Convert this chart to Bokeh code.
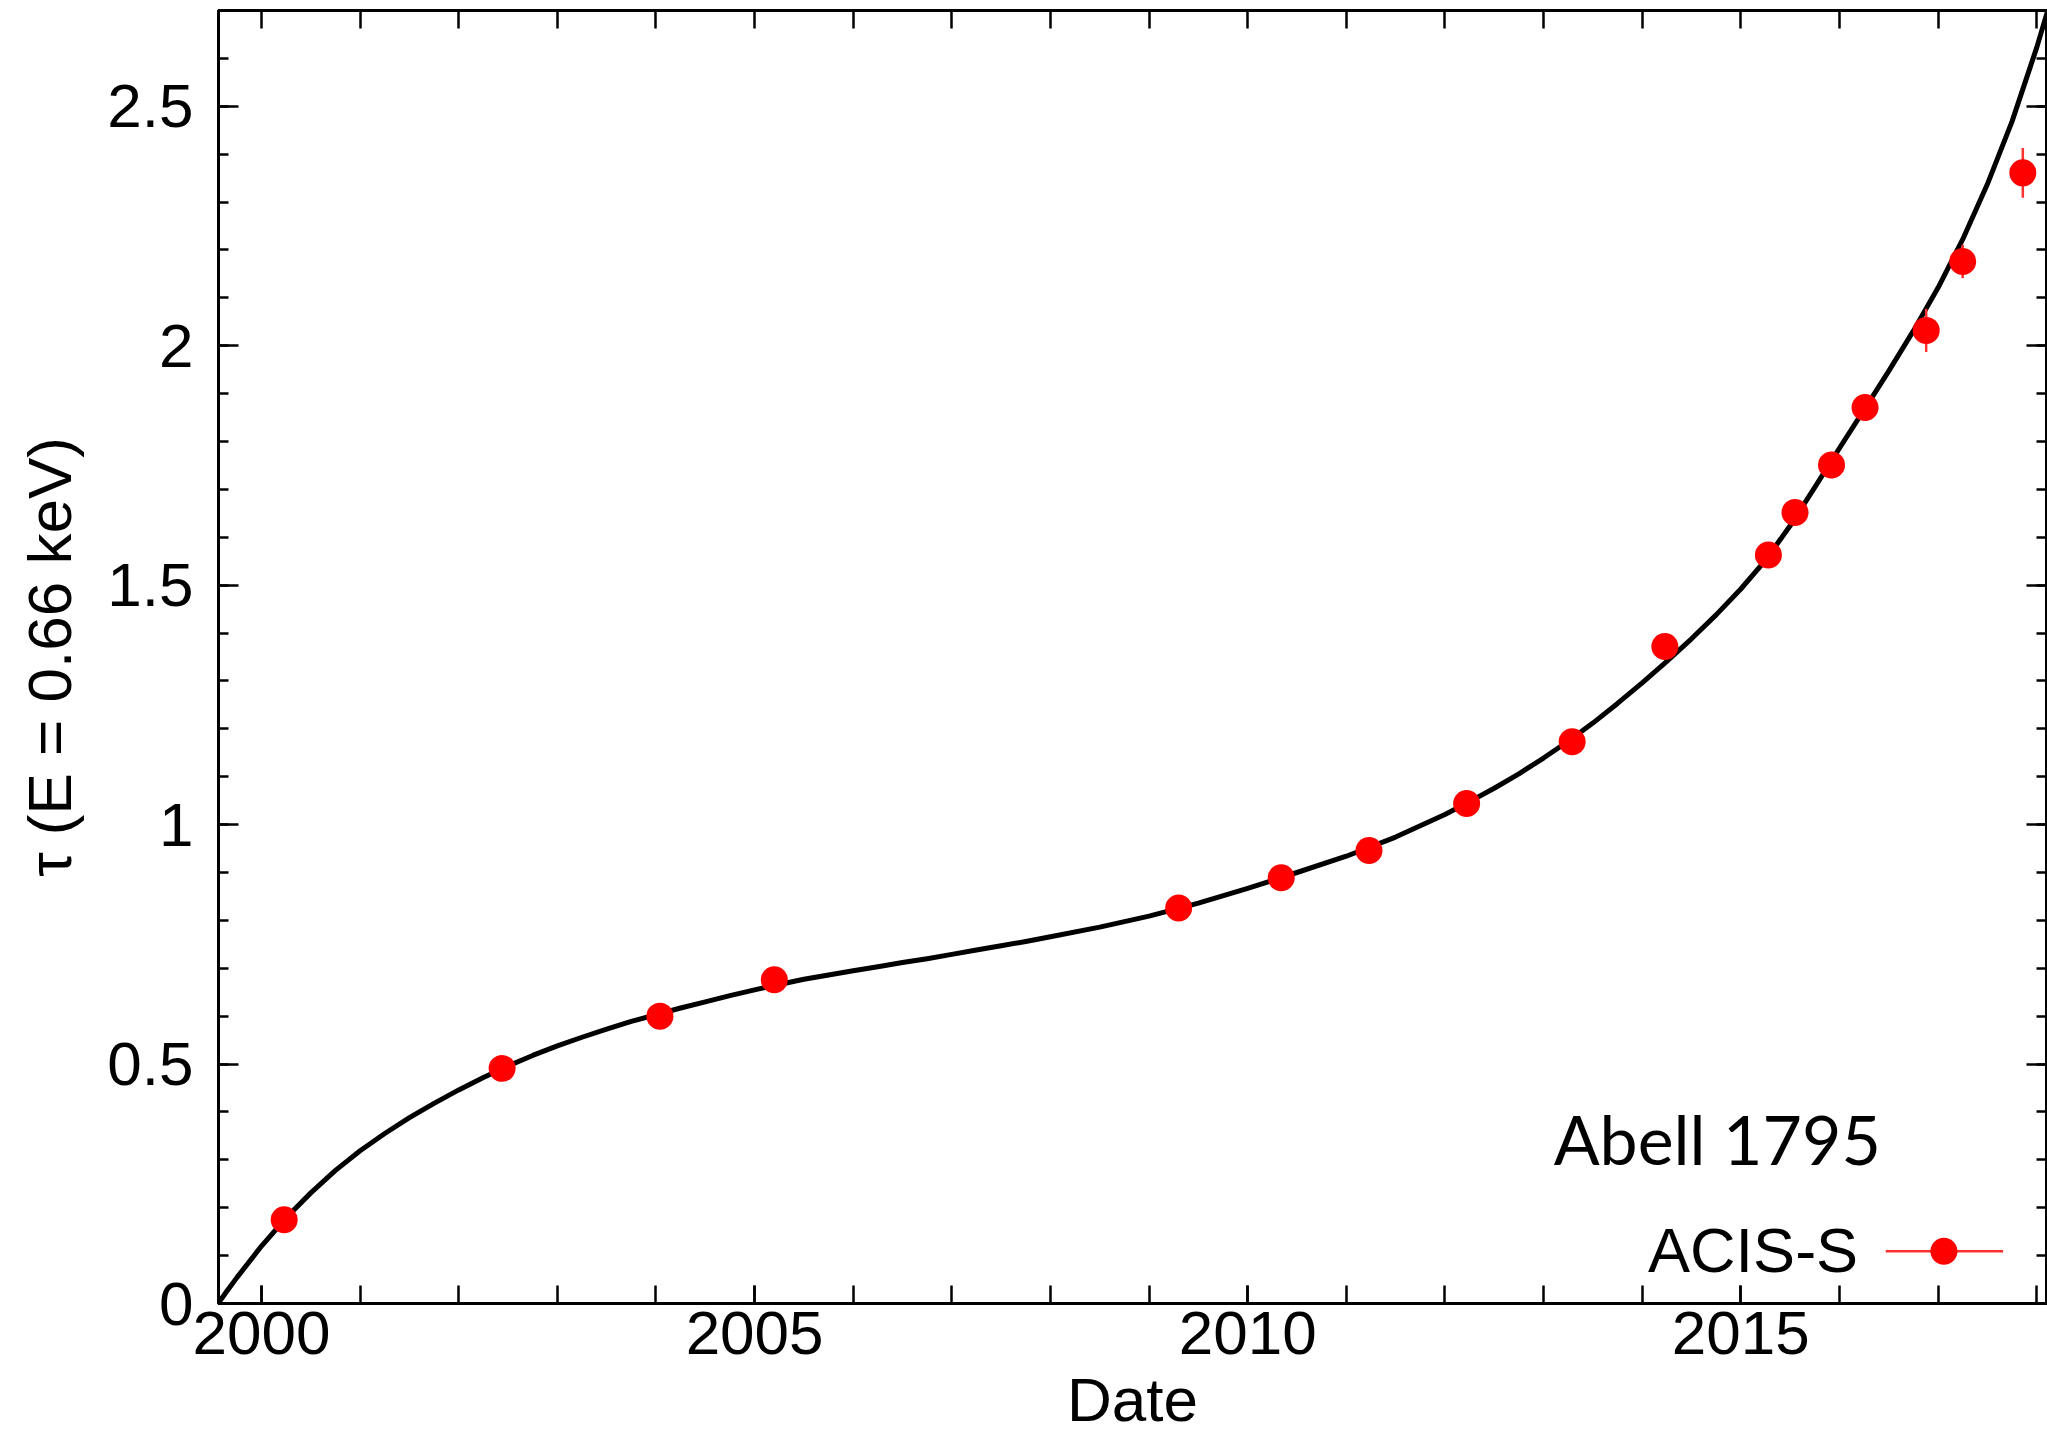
from bokeh.plotting import figure
from bokeh.models import FixedTicker, LinearAxis, Range1d, Label
from bokeh.embed import file_html
from bokeh.resources import INLINE

# ---- data ----
obs_date = [2000.23, 2002.44, 2004.04, 2005.20, 2009.30, 2010.34, 2011.23,
            2012.22, 2013.29, 2014.23, 2015.28, 2015.55, 2015.92, 2016.26,
            2016.88, 2017.25, 2017.86]
obs_tau = [0.175, 0.491, 0.600, 0.676, 0.826, 0.889, 0.946,
           1.044, 1.173, 1.372, 1.563, 1.652, 1.751, 1.871,
           2.032, 2.176, 2.361]
obs_err = [0.010, 0.010, 0.010, 0.010, 0.012, 0.012, 0.012,
           0.015, 0.015, 0.015, 0.020, 0.020, 0.020, 0.025,
           0.045, 0.035, 0.052]

# model curve
model_date = [1999.56, 1999.65, 1999.75, 2000.0, 2000.25, 2000.5, 2000.75,
              2001.0, 2001.25, 2001.5, 2001.75, 2002.0, 2002.25, 2002.5,
              2002.75, 2003.0, 2003.25, 2003.5, 2003.75, 2004.0, 2004.25,
              2004.5, 2004.75, 2005.0, 2005.25, 2005.5, 2005.75, 2006.0,
              2006.25, 2006.5, 2006.75, 2007.0, 2007.25, 2007.5, 2007.75,
              2008.0, 2008.5, 2009.0, 2009.5, 2010.0, 2010.5, 2011.0,
              2011.5, 2012.0, 2012.25, 2012.5, 2012.75, 2013.0, 2013.25,
              2013.5, 2013.75, 2014.0, 2014.25, 2014.5, 2014.75, 2015.0,
              2015.25, 2015.5, 2015.75, 2016.0, 2016.25, 2016.5, 2016.75,
              2017.0, 2017.25, 2017.5, 2017.75, 2018.0, 2018.12]
model_tau = [0.000, 0.026, 0.054, 0.120, 0.179, 0.231, 0.278,
             0.319, 0.355, 0.388, 0.418, 0.446, 0.472, 0.496,
             0.518, 0.538, 0.556, 0.573, 0.589, 0.603, 0.617,
             0.630, 0.643, 0.655, 0.666, 0.677, 0.686, 0.695,
             0.703, 0.712, 0.720, 0.729, 0.738, 0.747, 0.756,
             0.766, 0.786, 0.809, 0.836, 0.867, 0.900, 0.934,
             0.974, 1.021, 1.048, 1.076, 1.106, 1.139, 1.174,
             1.212, 1.253, 1.296, 1.341, 1.388, 1.438, 1.492,
             1.552, 1.624, 1.704, 1.786, 1.866, 1.947, 2.031,
             2.121, 2.222, 2.337, 2.468, 2.622, 2.705]

x_major = [2000, 2005, 2010, 2015]
x_minor = list(range(1999, 2020))
y_major = [0, 0.5, 1, 1.5, 2, 2.5]
y_minor = [round(0.1 * i, 1) for i in range(0, 28)]
y_labels = {0: "0", 0.5: "0.5", 1: "1", 1.5: "1.5", 2: "2", 2.5: "2.5"}

title_text = "Abell 1795"
series_name = "ACIS-S"
x_title = "Date"
y_title = "\u03c4 (E = 0.66 keV)"

# legend / annotation anchors (data space)
TITLE_POS = (2016.42, 0.344)
LEG_TEXT_POS = (2016.19, 0.111)
LEG_KEY = (2016.47, 2017.66, 2017.06, 0.109)

FONT = "Liberation Sans"
RED = "#ff0000"
ERR_RED = "#ff3030"

p = figure(frame_width=1828, frame_height=1293,
           x_range=Range1d(1999.564, 2018.10), y_range=Range1d(0, 2.70),
           output_backend="svg", toolbar_location=None,
           min_border_left=218, min_border_bottom=130,
           min_border_top=10, min_border_right=1)
p.background_fill_color = "white"
p.border_fill_color = "white"
p.outline_line_color = "black"
p.outline_line_width = 3
p.xgrid.visible = False
p.ygrid.visible = False

# bottom axis
xa = p.xaxis[0]
xa.ticker = FixedTicker(ticks=x_major, minor_ticks=x_minor)
xa.axis_label = x_title
xa.axis_label_text_font = FONT
xa.axis_label_text_font_size = "62px"
xa.axis_label_text_font_style = "normal"
xa.axis_label_text_color = "black"
xa.axis_label_standoff = 8
xa.major_label_text_font = FONT
xa.major_label_text_font_size = "62px"
xa.major_label_text_color = "black"
xa.major_label_standoff = 8
xa.major_tick_in = 18
xa.major_tick_out = 0
xa.minor_tick_in = 18
xa.minor_tick_out = 0
xa.axis_line_width = 3
xa.major_tick_line_width = 2.5
xa.minor_tick_line_width = 2.5

# left axis
ya = p.yaxis[0]
ya.ticker = FixedTicker(ticks=y_major, minor_ticks=y_minor)
ya.major_label_overrides = y_labels
ya.axis_label = y_title
ya.axis_label_text_font = FONT
ya.axis_label_text_font_size = "62px"
ya.axis_label_text_font_style = "normal"
ya.axis_label_text_color = "black"
ya.axis_label_standoff = 20
ya.major_label_text_font = FONT
ya.major_label_text_font_size = "62px"
ya.major_label_text_color = "black"
ya.major_label_standoff = 25
ya.major_tick_in = 20
ya.major_tick_out = 0
ya.minor_tick_in = 10
ya.minor_tick_out = 0
ya.axis_line_width = 3
ya.major_tick_line_width = 2.5
ya.minor_tick_line_width = 2.5

# mirrored axes (ticks only, no labels)
top = LinearAxis(ticker=FixedTicker(ticks=[], minor_ticks=x_minor),
                 major_tick_in=18, major_tick_out=0, minor_tick_in=18, minor_tick_out=0,
                 major_label_standoff=0,
                 axis_line_width=3, major_tick_line_width=2.5, minor_tick_line_width=2.5)
p.add_layout(top, "above")
right = LinearAxis(ticker=FixedTicker(ticks=y_major, minor_ticks=y_minor),
                   major_label_overrides={v: "" for v in y_major},
                   major_label_standoff=0,
                   major_tick_in=20, major_tick_out=0, minor_tick_in=10, minor_tick_out=0,
                   axis_line_width=3, major_tick_line_width=2.5, minor_tick_line_width=2.5)
p.add_layout(right, "right")

# model curve
p.line(model_date, model_tau, line_color="black", line_width=5, line_join="round")

# error bars + points
lo = [t - e for t, e in zip(obs_tau, obs_err)]
hi = [t + e for t, e in zip(obs_tau, obs_err)]
p.segment(x0=obs_date, y0=lo, x1=obs_date, y1=hi, line_color=ERR_RED, line_width=2.5)
p.scatter(obs_date, obs_tau, size=27, fill_color=RED, line_color=None)

# annotation text
p.add_layout(Label(x=TITLE_POS[0], y=TITLE_POS[1], text=title_text,
                   text_font="Lato", text_font_size="68px", text_align="right",
                   text_baseline="alphabetic", text_color="black"))
p.add_layout(Label(x=LEG_TEXT_POS[0], y=LEG_TEXT_POS[1], text=series_name,
                   text_font=FONT, text_font_size="63px", text_align="right",
                   text_baseline="alphabetic", text_color="black"))
# legend key
p.segment(x0=[LEG_KEY[0]], y0=[LEG_KEY[3]], x1=[LEG_KEY[1]], y1=[LEG_KEY[3]],
          line_color=ERR_RED, line_width=2.5)
p.scatter([LEG_KEY[2]], [LEG_KEY[3]], size=27, fill_color=RED, line_color=None)

open("out.html", "w").write(file_html(p, INLINE))
